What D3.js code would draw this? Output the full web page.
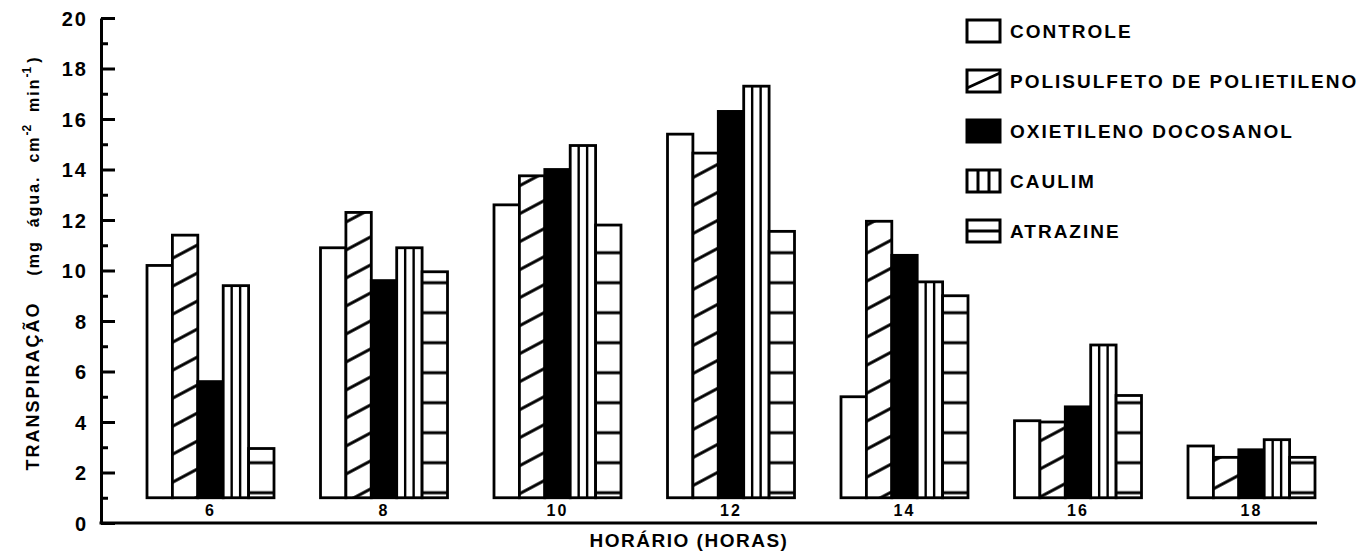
<!DOCTYPE html>
<html>
<head>
<meta charset="utf-8">
<script src="https://cdn.jsdelivr.net/npm/d3@7"></script>
<style>
  body { margin: 0; background: #ffffff; }
  text { font-family: "Liberation Sans", Arial, sans-serif; font-weight: bold; fill: #000; }
</style>
</head>
<body>
<div id="chart"></div>
<script>
var width = 1366;
var height = 555;

// ------------------ DATA ------------------
let hours = ["6", "8", "10", "12", "14", "16", "18"];
let series = ["CONTROLE", "POLISULFETO DE POLIETILENO", "OXIETILENO DOCOSANOL", "CAULIM", "ATRAZINE"];
let controle    = [10.2, 10.9, 12.6, 15.4, 5.0, 4.05, 3.05];
let polisulfeto = [11.4, 12.3, 13.75, 14.65, 11.95, 4.0, 2.6];
let oxietileno  = [5.6, 9.6, 14.0, 16.3, 10.6, 4.6, 2.9];
let caulim      = [9.4, 10.9, 14.95, 17.3, 9.55, 7.05, 3.3];
let atrazine    = [2.95, 9.95, 11.8, 11.55, 9.0, 5.05, 2.6];
let yMajor = [0, 2, 4, 6, 8, 10, 12, 14, 16, 18, 20];
let yMinor = [1, 3, 5, 7, 9, 11, 13, 15, 17, 19];
let base = 1; // bars stand on a raised baseline in the original

let values = [controle, polisulfeto, oxietileno, caulim, atrazine];
let fills = ["#fff", "url(#hatch)", "#000", "#fff", "url(#hlines)"];

var svg = d3.select("#chart").append("svg")
  .attr("width", width)
  .attr("height", height)
  .style("background", "#fff");

// ------------------ SCALES ------------------
var y = d3.scaleLinear().domain([0, 20]).range([523, 18]);
var x = d3.scaleBand().domain(hours).range([147, 1315]).paddingInner(0.268).paddingOuter(0);
var xs = d3.scaleBand().domain(series).range([0, x.bandwidth()]).padding(0);

// ------------------ PATTERNS ------------------
var defs = svg.append("defs");
var hatch = defs.append("pattern").attr("id", "hatch")
  .attr("patternUnits", "userSpaceOnUse")
  .attr("width", 10).attr("height", 28)
  .attr("patternTransform", "skewY(-28)");
hatch.append("rect").attr("width", 10).attr("height", 28).attr("fill", "#fff");
hatch.append("rect").attr("y", 12.3).attr("width", 10).attr("height", 3.4).attr("fill", "#000");

var hl = defs.append("pattern").attr("id", "hlines")
  .attr("patternUnits", "userSpaceOnUse")
  .attr("x", 0).attr("y", y(base) - 5 - 15)
  .attr("width", 10).attr("height", 30);
hl.append("rect").attr("width", 10).attr("height", 30).attr("fill", "#fff");
hl.append("rect").attr("y", 13.5).attr("width", 10).attr("height", 3).attr("fill", "#000");

// ------------------ BARS ------------------
var rows = [];
hours.forEach(function(h, i) {
  series.forEach(function(s, j) {
    rows.push({hour: h, serie: s, j: j, value: values[j][i]});
  });
});

var g_bars = svg.append("g").attr("id", "bars");
g_bars.selectAll("rect.bar").data(rows).join("rect")
  .attr("class", "bar")
  .attr("x", function(d) { return x(d.hour) + xs(d.serie); })
  .attr("y", function(d) { return y(d.value); })
  .attr("width", xs.bandwidth())
  .attr("height", function(d) { return y(base) - y(d.value); })
  .attr("fill", function(d) { return fills[d.j]; })
  .attr("stroke", "#000")
  .attr("stroke-width", 2.8);

// caulim : two vertical lines inside each bar
var caulimRows = rows.filter(function(d) { return d.j == 3; });
[1 / 3, 2 / 3].forEach(function(f) {
  g_bars.selectAll(null).data(caulimRows).join("line")
    .attr("x1", function(d) { return x(d.hour) + xs(d.serie) + xs.bandwidth() * f; })
    .attr("x2", function(d) { return x(d.hour) + xs(d.serie) + xs.bandwidth() * f; })
    .attr("y1", function(d) { return y(d.value); })
    .attr("y2", y(base))
    .attr("stroke", "#000")
    .attr("stroke-width", 2.4);
});

// ------------------ AXES ------------------
var x0 = 101;
var g_y = svg.append("g").attr("transform", "translate(" + x0 + ",0)");
g_y.call(d3.axisLeft(y).tickValues(yMajor).tickSizeInner(-14).tickSizeOuter(0).tickPadding(13)
  .tickFormat(d3.format("d")));
g_y.append("g").call(d3.axisLeft(y).tickValues(yMinor).tickSizeInner(-7).tickSizeOuter(0).tickFormat(""))
  .select(".domain").remove();
g_y.selectAll("path.domain").attr("stroke", "#000").attr("stroke-width", 3);
g_y.selectAll(".tick line").attr("stroke", "#000").attr("stroke-width", 3);
g_y.selectAll(".tick text")
  .attr("font-size", 20)
  .attr("font-family", "'Liberation Sans', Arial, sans-serif")
  .attr("font-weight", "bold")
  .attr("letter-spacing", 2)
  .attr("dy", "0.36em")
  .attr("fill", "#000");

// horizontal axis line
svg.append("line")
  .attr("x1", x0 - 1.5).attr("x2", x.range()[1] + 2)
  .attr("y1", y(0)).attr("y2", y(0))
  .attr("stroke", "#000").attr("stroke-width", 3);

// hour labels, between bar baseline and axis line
var g_x = svg.append("g").attr("transform", "translate(0," + y(base) + ")");
g_x.call(d3.axisBottom(x).tickSize(0).tickPadding(7));
g_x.select(".domain").remove();
g_x.selectAll(".tick text")
  .attr("font-size", 16)
  .attr("font-family", "'Liberation Sans', Arial, sans-serif")
  .attr("font-weight", "bold")
  .attr("letter-spacing", 2)
  .attr("fill", "#000");

// ------------------ TITLES ------------------
svg.append("text")
  .attr("x", 689).attr("y", 547)
  .attr("text-anchor", "middle")
  .attr("font-size", 19)
  .attr("letter-spacing", 1.5)
  .text("HORÁRIO (HORAS)");

var ytitle = svg.append("text")
  .attr("transform", "translate(39,264) rotate(-90)")
  .attr("text-anchor", "middle")
  .style("white-space", "pre");
ytitle.append("tspan").attr("font-size", 18).attr("letter-spacing", 2).text("TRANSPIRAÇÃO");
ytitle.append("tspan").attr("font-size", 16).attr("letter-spacing", 2).attr("dx", 26).text("(mg  água.  cm");
ytitle.append("tspan").attr("font-size", 12).attr("dy", -8).text("-2");
ytitle.append("tspan").attr("font-size", 16).attr("letter-spacing", 2).attr("dy", 8).text("  min");
ytitle.append("tspan").attr("font-size", 12).attr("dy", -8).text("-1");
ytitle.append("tspan").attr("font-size", 16).attr("dy", 8).attr("dx", 4).text(")");

// ------------------ LEGEND ------------------
var lg = svg.append("g").attr("id", "legend");
var lx = 967, lw = 33, lh = 22;
series.forEach(function(s, j) {
  let cy = 31 + j * 50;
  let g = lg.append("g").attr("transform", "translate(" + lx + "," + (cy - lh / 2) + ")");
  g.append("rect").attr("width", lw).attr("height", lh)
    .attr("fill", j == 2 ? "#000" : "#fff")
    .attr("stroke", "#000").attr("stroke-width", 3);
  if (j == 1) {
    g.append("line").attr("x1", 0).attr("y1", lh - 4).attr("x2", lw).attr("y2", 3)
      .attr("stroke", "#000").attr("stroke-width", 3);
  }
  if (j == 3) {
    [1 / 3, 2 / 3].forEach(function(f) {
      g.append("line").attr("x1", lw * f).attr("x2", lw * f).attr("y1", 0).attr("y2", lh)
        .attr("stroke", "#000").attr("stroke-width", 3);
    });
  }
  if (j == 4) {
    g.append("line").attr("x1", 0).attr("x2", lw).attr("y1", lh / 2).attr("y2", lh / 2)
      .attr("stroke", "#000").attr("stroke-width", 3);
  }
  lg.append("text")
    .attr("x", 1010).attr("y", cy)
    .attr("dy", "0.36em")
    .attr("font-size", 19)
    .attr("letter-spacing", 2)
    .text(s);
});
</script>
</body>
</html>
